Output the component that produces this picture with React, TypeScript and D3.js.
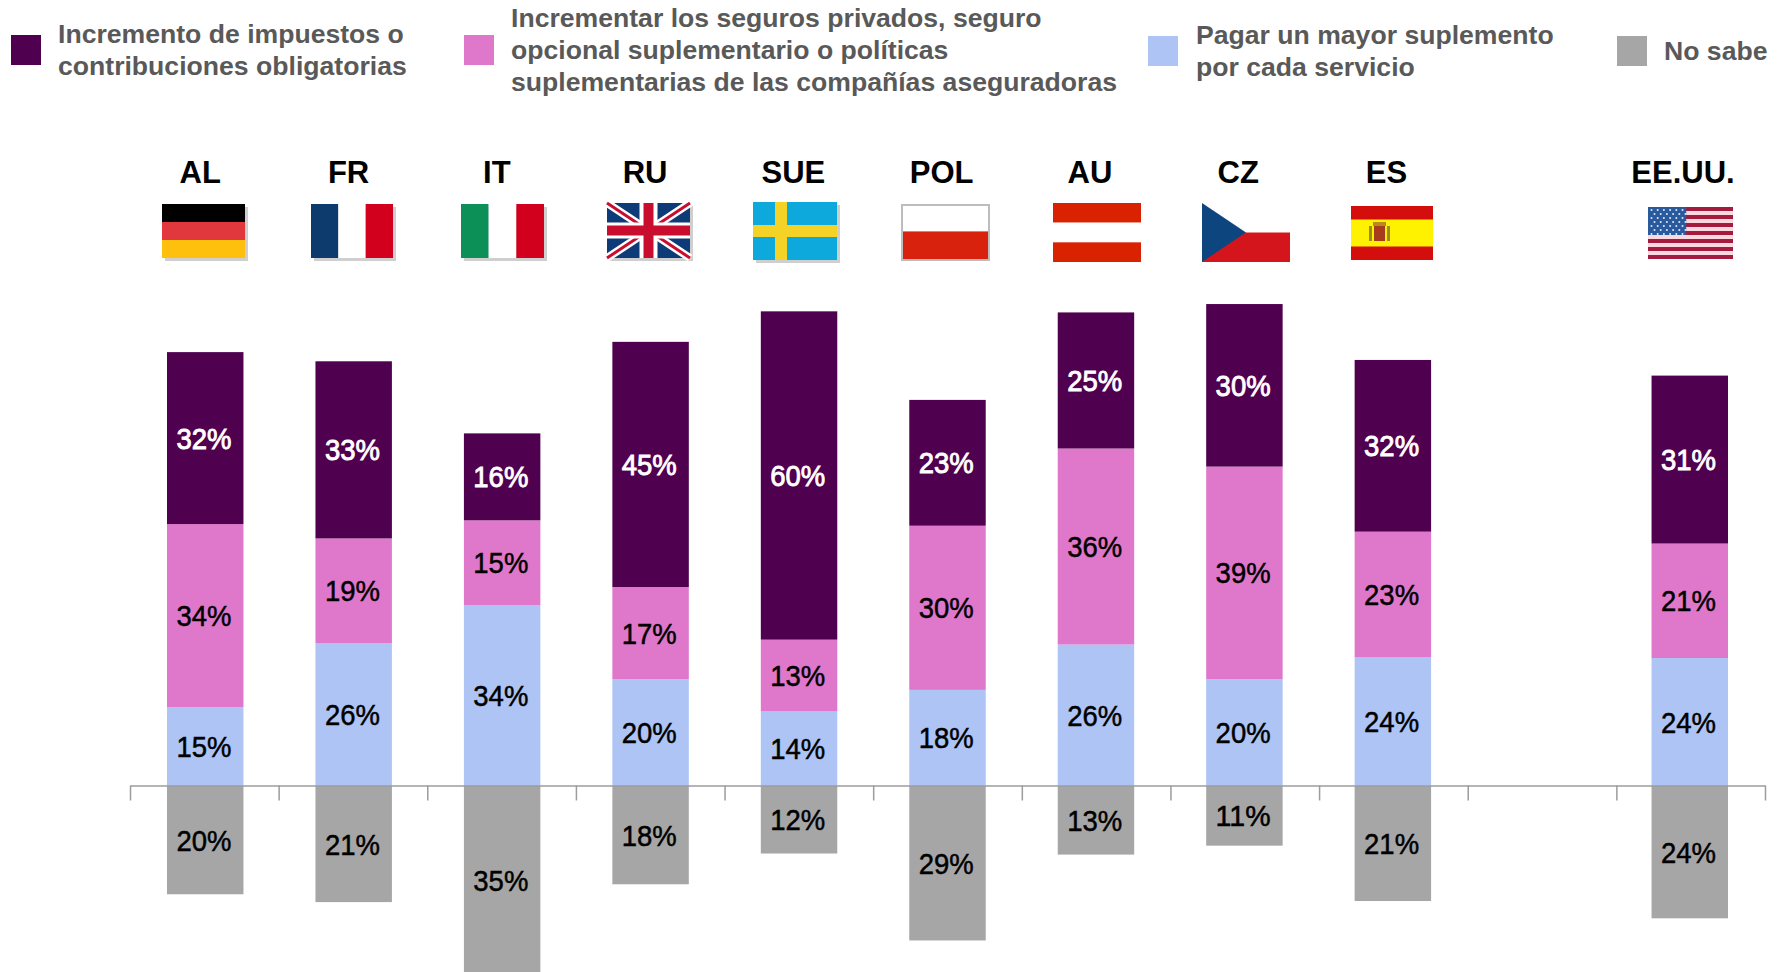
import React, { useEffect, useRef } from 'react';
import * as d3 from 'd3';

// blank slot between ES and EE.UU. is a real gap in the original
const countries = ['AL', 'FR', 'IT', 'RU', 'SUE', 'POL', 'AU', 'CZ', 'ES', '', 'EE.UU.'];

// bar heights, in percentage points
const impuestos = [31.85, 32.8, 16.1, 45.4, 60.8, 23.3, 25.2, 30.1, 31.8, 0, 31.1];
const seguros = [33.9, 19.45, 15.7, 17.1, 13.3, 30.4, 36.3, 39.4, 23.3, 0, 21.2];
const suplemento = [14.6, 26.4, 33.5, 19.75, 13.8, 17.8, 26.2, 19.75, 23.8, 0, 23.7];
const noSabe = [20.05, 21.5, 35, 18.2, 12.5, 28.6, 12.7, 11.05, 21.3, 0, 24.5];

// printed labels
const impuestosLabels = [32, 33, 16, 45, 60, 23, 25, 30, 32, 0, 31];
const segurosLabels = [34, 19, 15, 17, 13, 30, 36, 39, 23, 0, 21];
const suplementoLabels = [15, 26, 34, 20, 14, 18, 26, 20, 24, 0, 24];
const noSabeLabels = [20, 21, 35, 18, 12, 29, 13, 11, 21, 0, 24];

const legendLines = [
  ['Incremento de impuestos o', 'contribuciones obligatorias'],
  ['Incrementar los seguros privados, seguro', 'opcional suplementario o políticas', 'suplementarias de las compañías aseguradoras'],
  ['Pagar un mayor suplemento', 'por cada servicio'],
  ['No sabe'],
];

const colors = ['#4f004f', '#df78cb', '#adc4f4', '#a6a6a6'];
const labelColors = ['#fff', '#000', '#000', '#000'];

const W = 1780;
const H = 972;
const FONT = '"Liberation Sans", Arial, sans-serif';

// legend layout: swatch x, text x, first baseline, swatch y
const legendPos = [
  { sx: 11, tx: 58, y: 43, sy: 35 },
  { sx: 464, tx: 511, y: 27, sy: 35 },
  { sx: 1148, tx: 1196, y: 44, sy: 36 },
  { sx: 1617, tx: 1664, y: 60, sy: 36 },
];

// flag boxes in page pixels
const flagBoxes: Record<string, [number, number, number, number]> = {
  AL: [162, 204, 83, 54],
  FR: [311, 204, 82, 54],
  IT: [461, 204, 83, 54],
  RU: [607, 203, 83, 55],
  SUE: [753, 202, 84, 58],
  POL: [901, 204, 89, 57],
  AU: [1053, 203, 88, 59],
  CZ: [1202, 203, 88, 59],
  ES: [1351, 206, 82, 54],
  'EE.UU.': [1648, 207, 85, 52],
};

type G = d3.Selection<SVGGElement, unknown, null, undefined>;

const rect = (g: G, x: number, y: number, w: number, h: number, fill: string) =>
  g.append('rect').attr('x', x).attr('y', y).attr('width', w).attr('height', h).attr('fill', fill);

const drawFlag = (g: G, code: string, w: number, h: number) => {
  if (code === 'AL') {
    rect(g, 0, 0, w, h / 3, '#050505');
    rect(g, 0, h / 3, w, h / 3, '#e0393e');
    rect(g, 0, (2 * h) / 3, w, h / 3, '#ffbf0b');
  } else if (code === 'FR') {
    rect(g, 0, 0, w / 3, h, '#0a3a6e');
    rect(g, w / 3, 0, w / 3, h, '#fff');
    rect(g, (2 * w) / 3, 0, w / 3, h, '#d2001f');
  } else if (code === 'IT') {
    rect(g, 0, 0, w / 3, h, '#0a8f58');
    rect(g, w / 3, 0, w / 3, h, '#fff');
    rect(g, (2 * w) / 3, 0, w / 3, h, '#d2001f');
  } else if (code === 'RU') {
    rect(g, 0, 0, w, h, '#103a78');
    const cross = (s: string, sw: number) => {
      g.append('path').attr('d', `M0,0L${w},${h}M${w},0L0,${h}`).attr('stroke', s).attr('stroke-width', sw);
    };
    cross('#fff', 8);
    cross('#c8102e', 3);
    rect(g, w / 2 - 9, 0, 18, h, '#fff');
    rect(g, 0, h / 2 - 8, w, 16, '#fff');
    rect(g, w / 2 - 5, 0, 10, h, '#c8102e');
    rect(g, 0, h / 2 - 5, w, 10, '#c8102e');
  } else if (code === 'SUE') {
    rect(g, 0, 0, w, h, '#11a8dc');
    rect(g, 22, 0, 12, h, '#f4d226');
    rect(g, 0, h / 2 - 6, w, 12, '#f4d226');
  } else if (code === 'POL') {
    rect(g, 0, 0, w, h, '#bdbdbd');
    rect(g, 2, 2, w - 4, h / 2 - 3, '#fff');
    rect(g, 2, h / 2 - 1, w - 4, h / 2 - 1, '#d8210f');
  } else if (code === 'AU') {
    rect(g, 0, 0, w, h / 3, '#d92106');
    rect(g, 0, h / 3, w, h / 3, '#fff');
    rect(g, 0, (2 * h) / 3, w, h / 3, '#d92106');
  } else if (code === 'CZ') {
    rect(g, 0, 0, w, h / 2, '#fff');
    rect(g, 0, h / 2, w, h / 2, '#d4161c');
    g.append('path').attr('d', `M0,0L${w / 2},${h / 2}L0,${h}Z`).attr('fill', '#11457e');
  } else if (code === 'ES') {
    rect(g, 0, 0, w, h, '#d40a0a');
    rect(g, 0, h / 4, w, h / 2, '#fff200');
    rect(g, 23, h / 2 - 7, 11, 15, '#a83a1c');
    rect(g, 22, h / 2 - 11, 13, 4, '#b88a1a');
    rect(g, 18, h / 2 - 7, 3, 15, '#9a8a2a');
    rect(g, 36, h / 2 - 7, 3, 15, '#9a8a2a');
  } else if (code === 'EE.UU.') {
    rect(g, 0, 0, w, h, '#fbd7e0');
    d3.range(0, 13, 2).forEach(i => rect(g, 0, (i * h) / 13, w, h / 13, '#a31d3e'));
    rect(g, 0, 0, w * 0.45, (7 * h) / 13, '#2c5a9e');
    d3.range(7).forEach(r =>
      d3.range(6).forEach(c => {
        g.append('circle')
          .attr('cx', 3.5 + c * 6.2 + (r % 2 ? 3 : 0))
          .attr('cy', 3 + r * 4)
          .attr('r', 1)
          .attr('fill', '#dfe8f5');
      })
    );
  }
};

const App = () => {
  const chartRef = useRef<SVGSVGElement>(null);

  useEffect(() => {
    const svg = d3.select(chartRef.current as SVGSVGElement);
    svg.selectAll('*').remove();

    svg.append('defs').append('filter').attr('id', 'soft')
      .append('feGaussianBlur').attr('stdDeviation', 0.4);

    const baseline = 786;
    const pxPerPct = 5.4;

    const x = d3.scaleBand<string>()
      .domain(countries.map((c, i) => c || `gap${i}`))
      .range([131, 1764])
      .paddingInner(0.485)
      .paddingOuter(0.2425);

    const y = d3.scaleLinear().domain([0, 100]).range([baseline, baseline - 100 * pxPerPct]);
    const yDown = d3.scaleLinear().domain([0, 100]).range([baseline, baseline + 100 * pxPerPct]);

    // legend
    legendLines.forEach((lines, i) => {
      const p = legendPos[i];
      svg.append('rect')
        .attr('x', p.sx).attr('y', p.sy).attr('width', 30).attr('height', 30)
        .attr('fill', colors[i]);
      svg.append('text')
        .attr('font-family', FONT).attr('font-size', 26.6).attr('font-weight', 700).attr('fill', '#595959')
        .selectAll('tspan')
        .data(lines)
        .join('tspan')
        .attr('x', p.tx)
        .attr('y', (_, j) => p.y + j * 32)
        .text(d => d);
    });

    // category labels sit a little left of the bars and drift slightly
    const headX = d3.scaleLinear().domain([0, countries.length - 1]).range([200.3, 1683]);
    countries.forEach((c, i) => {
      if (!c) return;
      svg.append('text')
        .attr('transform', `translate(${headX(i)},183) scale(0.97,1)`)
        .attr('text-anchor', 'middle')
        .attr('font-family', FONT).attr('font-size', 32).attr('font-weight', 700).attr('fill', '#000')
        .text(c);
      const [fx, fy, fw, fh] = flagBoxes[c];
      const g = svg.append('g')
        .attr('transform', `translate(${fx},${fy})`)
        .attr('filter', 'url(#soft)') as unknown as G;
      if (i < 5) rect(g, 3, 3, fw, fh, '#cfcfcf');
      drawFlag(g, c, fw, fh);
    });

    // stacked bars above the axis, No sabe below it
    const series = [impuestos, seguros, suplemento];
    const seriesLabels = [impuestosLabels, segurosLabels, suplementoLabels];
    const idx = d3.range(countries.length).filter(i => countries[i]);
    const layers = d3.stack<number>()
      .keys(['2', '1', '0'])
      .value((i, k) => series[+k][i])(idx);

    const drawLabel = (cx: number, cy: number, v: number, color: string) => {
      svg.append('text')
        .attr('x', cx - 1.3)
        .attr('y', cy + 10.5)
        .attr('text-anchor', 'middle')
        .attr('textLength', 55)
        .attr('lengthAdjust', 'spacingAndGlyphs')
        .attr('font-family', FONT)
        .attr('font-size', 30)
        .attr('stroke', color)
        .attr('stroke-width', color === '#fff' ? 0.9 : 0.5)
        .attr('fill', color)
        .text(`${v}%`);
    };

    const centerOf = (i: number) => (x(countries[i]) as number) + x.bandwidth() / 2;

    layers.forEach(layer => {
      const s = +layer.key;
      svg.append('g')
        .selectAll('rect')
        .data(layer)
        .join('rect')
        .attr('x', d => x(countries[d.data]) as number)
        .attr('y', d => y(d[1]))
        .attr('width', x.bandwidth())
        .attr('height', d => y(d[0]) - y(d[1]))
        .attr('fill', colors[s]);
      layer.forEach(d => {
        drawLabel(centerOf(d.data), y((d[0] + d[1]) / 2), seriesLabels[s][d.data], labelColors[s]);
      });
    });

    svg.append('g')
      .selectAll('rect')
      .data(idx)
      .join('rect')
      .attr('x', i => x(countries[i]) as number)
      .attr('y', baseline)
      .attr('width', x.bandwidth())
      .attr('height', i => yDown(noSabe[i]) - baseline)
      .attr('fill', colors[3]);
    idx.forEach(i => {
      drawLabel(centerOf(i), yDown(noSabe[i] / 2), noSabeLabels[i], labelColors[3]);
    });

    // category axis, ticks fall between the bars
    const tickScale = d3.scaleLinear().domain([0, countries.length]).range([130, 1765]);
    const axis = svg.append('g')
      .attr('transform', `translate(0,${baseline - 0.5})`)
      .call(
        d3.axisBottom(tickScale)
          .tickValues(d3.range(countries.length + 1))
          .tickSize(15)
          .tickSizeOuter(0)
          .tickFormat(() => '')
      );
    axis.selectAll('path, line').attr('stroke', '#9c9c9c').attr('stroke-width', 1.5);
  }, []);

  return (
    <svg
      ref={chartRef}
      width={W}
      height={H}
      style={{ position: 'absolute', left: 0, top: 0, display: 'block', background: '#fff' }}
    />
  );
};

export default App;
